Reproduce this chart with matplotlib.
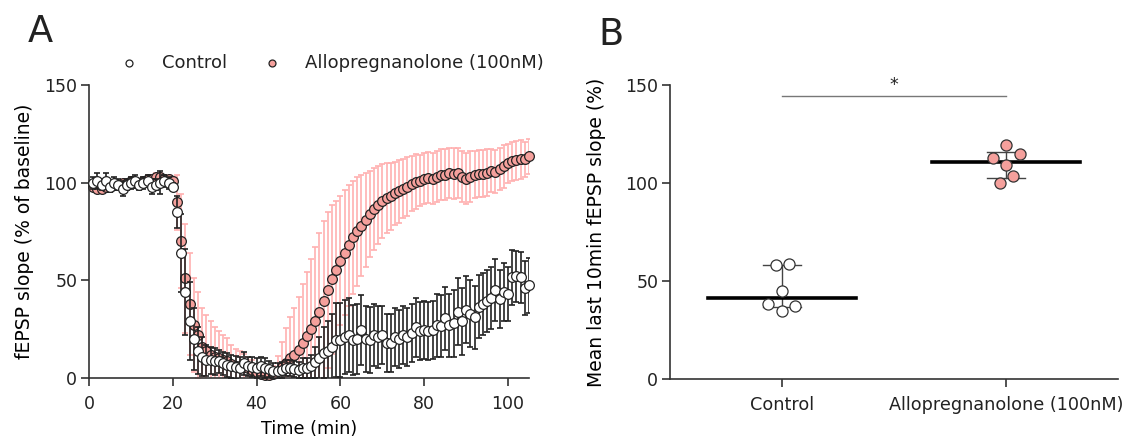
import numpy as np
import matplotlib
matplotlib.use('Agg')
import matplotlib.pyplot as plt
from matplotlib.lines import Line2D

plt.rcParams['font.family'] = ['DejaVu Sans']
plt.rcParams['axes.linewidth'] = 1.2
plt.rcParams['axes.edgecolor'] = '#333333'
plt.rcParams['text.color'] = '#222222'

# ---- panel A data: time course (mean +/- SEM), one point per minute
time_min = np.arange(1, 106)

ctrl_mean = [100, 101, 99, 101, 98, 100, 99, 97, 99, 100, 101, 99, 100, 101, 98, 99, 100, 101, 100, 98,
             85, 64, 44, 29, 20, 14, 11, 9, 9, 8.5,
             8.5, 7.5, 6.6, 6, 5.5, 5, 7.5, 6, 5.5, 5,
             6, 5, 4.5, 3.5, 3.5, 4, 5, 5, 4.5, 4,
             5, 5, 6, 8, 10, 13, 14, 16, 19.5, 19.5,
             21, 22, 19.5, 20, 24.5, 20, 19.5, 22, 21, 22,
             18, 18, 21, 20, 22, 21, 23, 26, 24, 24.5,
             24, 24.5, 27, 26.5, 30.5, 27, 28, 34, 29, 35,
             33, 31, 36.5, 38, 39.5, 41, 45, 40.5, 44, 43,
             51.5, 52, 51.5, 46, 47.5]
ctrl_sem = [3, 4, 3, 4, 3, 3, 3, 4, 3, 3, 3, 3, 3, 3, 4, 3, 6, 3, 3, 2,
            8, 20, 22, 20, 16, 12, 10, 8, 7, 7,
            6, 6, 6, 6, 6, 6, 6, 5, 5, 5,
            5, 5, 4, 4, 4, 4, 4, 4, 4, 4,
            5, 5, 6, 8, 11, 13, 15, 17, 19, 19,
            19, 19, 18, 18, 18, 17, 17, 16, 16, 15,
            15, 15, 15, 15, 15, 15, 15, 15, 15, 15,
            15, 15, 16, 16, 16, 16, 17, 17, 17, 17,
            17, 16, 16, 16, 16, 16, 16, 15, 15, 14,
            14, 13, 13, 14, 14]

allo_mean = [98, 97, 97, 98, 98, 99, 99, 100, 100, 101, 100, 100, 101, 102, 102, 103, 103, 102, 102, 101,
             90, 70, 51, 38, 27, 22, 16, 14, 12, 11,
             10, 9, 8.5, 7, 6, 6, 5.5, 5, 4, 3,
             2, 1.5, 1.5, 2, 3.5, 5.5, 7.5, 10, 12, 14.5,
             18, 21.5, 25, 29, 34, 39.5, 45, 50.5, 55.5, 60,
             64, 68, 72, 75, 78, 81, 84, 86.5, 88.5, 90.5,
             92, 93, 94.5, 95.5, 97, 98, 99.5, 100.5, 101, 102,
             102.5, 102, 103, 104, 104, 105, 104.5, 105, 103, 102,
             103, 104, 104.5, 104.5, 105, 106, 105.5, 107, 108.5, 110,
             111, 111.5, 112, 112, 113.5]
allo_sem = [2, 2, 2, 2, 2, 2, 2, 2, 2, 2, 2, 2, 2, 2, 2, 2, 2, 2, 2, 2,
            14, 24, 28, 26, 24, 22, 20, 18, 17, 15,
            14, 13, 12, 10, 9, 8, 7, 6, 5, 4,
            3, 3, 3, 4, 8, 13, 18, 21, 24, 27,
            30, 33, 36, 38, 40, 41, 40, 38, 35, 33,
            32, 31, 29, 28, 26, 24, 22, 21, 20, 19,
            18, 17, 16, 16, 15, 15, 14, 14, 13, 13,
            13, 13, 13, 13, 13, 13, 13, 13, 13, 13,
            13, 12, 12, 12, 12, 11, 11, 11, 11, 10,
            10, 10, 10, 9, 9]

series_names = ['Control', 'Allopregnanolone (100nM)']

# ---- panel B data: mean of last 10 min per slice
groups = ['Control', 'Allopregnanolone (100nM)']
ctrl_last10 = [58.2, 58.5, 44.7, 38.1, 37.2, 34.9]
allo_last10 = [119.6, 112.6, 114.6, 109.2, 103.4, 100.0]
ctrl_jitter = [-0.027, 0.033, 0.0, -0.063, 0.06, 0.0]
allo_jitter = [0.0, -0.059, 0.062, 0.0, 0.033, -0.029]

pink = '#f5a09c'
pink_err = '#ffb0b0'
W, H = 1129, 443

fig = plt.figure(figsize=(W / 100, H / 100), dpi=100)

# ================= A
ax = fig.add_axes([89 / W, 65 / H, 440 / W, 293 / H])
ax.errorbar(time_min, allo_mean, yerr=allo_sem, fmt='none', ecolor=pink_err,
            elinewidth=1.2, capsize=2, capthick=1.2, zorder=1)
ax.plot(time_min, allo_mean, 'o', ms=7, mfc=pink, mec='#222222', mew=0.9,
        clip_on=False, zorder=2)
ax.errorbar(time_min, ctrl_mean, yerr=ctrl_sem, fmt='none', ecolor='#222222',
            elinewidth=1.2, capsize=2, capthick=1.2, zorder=3)
ax.plot(time_min, ctrl_mean, 'o', ms=7, mfc='white', mec='#222222', mew=0.9,
        clip_on=False, zorder=4)

ax.set_xlim(0, 105)
ax.set_ylim(0, 150)
ax.set_xticks([0, 20, 40, 60, 80, 100])
ax.set_yticks([0, 50, 100, 150])
ax.spines['top'].set_visible(False)
ax.spines['right'].set_visible(False)
ax.tick_params(direction='out', length=6, width=1.2, labelsize=12.5, colors='#333333',
               labelcolor='#222222')
ax.tick_params(axis='y', pad=2.5)
ax.tick_params(axis='x', pad=6)
ax.set_xlabel('Time (min)', fontsize=12.7, labelpad=5)
ax.set_ylabel('fEPSP slope (% of baseline)', fontsize=13.5, labelpad=7)

# legend above panel A
for name, fc, mx, tx in zip(series_names, ['white', pink], [129, 271.5], [162, 305]):
    fig.add_artist(Line2D([mx / W], [1 - 62.7 / H], transform=fig.transFigure, ls='none',
                          marker='o', ms=5, mfc=fc, mec='#222222', mew=0.9))
    fig.text(tx / W, 1 - 62.7 / H, name, fontsize=13, va='center')

fig.text(28 / W, 1 - 41.7 / H, 'A', fontsize=26.5, va='baseline')

# ================= B
bx = fig.add_axes([670 / W, 64 / H, 448 / W, 294 / H])
for i, (vals, jit, fc) in enumerate([(ctrl_last10, ctrl_jitter, 'white'),
                                     (allo_last10, allo_jitter, pink)]):
    med = np.median(vals)
    q1, q3 = np.percentile(vals, [25, 75], method='weibull')
    bx.plot([i - 0.33, i + 0.33], [med, med], color='black', lw=2.6, zorder=3)
    bx.plot([i, i], [q1, q3], color='#444444', lw=1.0, zorder=1)
    bx.plot([i - 0.083, i + 0.083], [q1, q1], color='#444444', lw=1.0, zorder=1)
    bx.plot([i - 0.083, i + 0.083], [q3, q3], color='#444444', lw=1.0, zorder=1)
    bx.plot(np.array(jit) + i, vals, 'o', ms=8, mfc=fc, mec='#333333', mew=0.9, zorder=4)

bx.plot([0, 1], [144.6, 144.6], color='#777777', lw=1.0)
bx.text(0.5, 145.5, '*', ha='center', va='bottom', fontsize=12.5)

bx.set_xlim(-0.5, 1.5)
bx.set_ylim(0, 150)
bx.set_xticks([0, 1])
bx.set_xticklabels(groups)
bx.set_yticks([0, 50, 100, 150])
bx.spines['top'].set_visible(False)
bx.spines['right'].set_visible(False)
bx.tick_params(direction='out', length=6, width=1.2, labelsize=12.5, colors='#333333',
               labelcolor='#222222')
bx.tick_params(axis='y', pad=2.5)
bx.tick_params(axis='x', pad=6, labelsize=12.7)
bx.set_ylabel('Mean last 10min fEPSP slope (%)', fontsize=13.5, labelpad=14)

fig.text(598 / W, 1 - 45 / H, 'B', fontsize=26.5, va='baseline')

fig.savefig('out.png', dpi=100)
